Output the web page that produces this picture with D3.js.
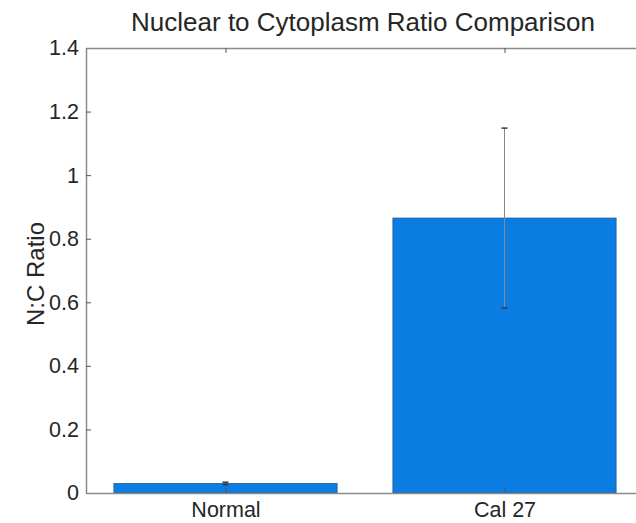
<!DOCTYPE html>
<html><head><meta charset="utf-8">
<script src="https://cdn.jsdelivr.net/npm/d3@7"></script>
<style>body{margin:0;background:#fff}svg{display:block}</style>
</head><body>
<svg id="c" width="636" height="523"></svg>
<script>
const categories = ["Normal", "Cal 27"];
const values = [0.03, 0.865];
const errors = [0.004, 0.283];
const yTicks = [0, 0.2, 0.4, 0.6, 0.8, 1, 1.2, 1.4];
const yTickLabels = ["0", "0.2", "0.4", "0.6", "0.8", "1", "1.2", "1.4"];
const title = "Nuclear to Cytoplasm Ratio Comparison";
const yLabel = "N:C Ratio";

const svg = d3.select("#c");
const m = {left: 86, right: 644, top: 48, bottom: 493};
const x = d3.scaleLinear().domain([0.5, 2.5]).range([m.left, m.right]);
const y = d3.scaleLinear().domain([0, 1.4]).range([m.bottom, m.top]);
const barW = 0.8;
const font = "'Liberation Sans', Arial, sans-serif";
const axisCol = "#8c8c8c";
const txtCol = "#262626";

// bars
svg.selectAll("rect.bar").data(values).join("rect")
  .attr("class", "bar")
  .attr("x", (d, i) => x(i + 1 - barW / 2))
  .attr("width", (d, i) => x(i + 1 + barW / 2) - x(i + 1 - barW / 2))
  .attr("y", d => y(d))
  .attr("height", d => y(0) - y(d))
  .attr("fill", "#0a7ce2")
  .attr("stroke", "#1d5a96")
  .attr("stroke-width", 0.8);

// error bars
const eg = svg.append("g").attr("stroke", "#3a3a3a").attr("stroke-width", 1);
values.forEach((v, i) => {
  const cx = x(i + 1);
  eg.append("line").attr("x1", cx).attr("x2", cx).attr("y1", y(v - errors[i])).attr("y2", y(v + errors[i])).attr("stroke", i === 1 ? "#888" : "#3a3a3a");
  [v - errors[i], v + errors[i]].forEach(e => {
    eg.append("line").attr("x1", cx - 3).attr("x2", cx + 3).attr("y1", y(e)).attr("y2", y(e)).attr("stroke-width", 1.5);
  });
});

// axes
const yAxis = d3.axisLeft(y).tickValues(yTicks).tickFormat((d, i) => yTickLabels[i]).tickSizeInner(-5).tickSizeOuter(0).tickPadding(7);
const gy = svg.append("g").attr("transform", `translate(${m.left},0)`).call(yAxis);
gy.select(".domain").attr("stroke", axisCol).attr("stroke-width", 1.5);
gy.selectAll(".tick line").attr("stroke", "#555");
gy.selectAll("text").attr("font-family", font).attr("font-size", 21.5).attr("fill", txtCol);

const xAxis = d3.axisBottom(x).tickValues([1, 2]).tickFormat((d, i) => categories[i]).tickSizeInner(-5).tickSizeOuter(0).tickPadding(9);
const gx = svg.append("g").attr("transform", `translate(0,${m.bottom})`).call(xAxis);
gx.select(".domain").attr("stroke", axisCol).attr("stroke-width", 1.5);
gx.selectAll(".tick line").attr("stroke", "#555");
gx.selectAll("text").attr("font-family", font).attr("font-size", 21.5).attr("fill", txtCol);

const xTop = d3.axisTop(x).tickValues([1, 2]).tickFormat("").tickSizeInner(-5).tickSizeOuter(0);
const gt = svg.append("g").attr("transform", `translate(0,${m.top})`).call(xTop);
gt.select(".domain").attr("stroke", axisCol).attr("stroke-width", 1.5);
gt.selectAll(".tick line").attr("stroke", "#555");

// title and label
svg.append("text").attr("x", 363).attr("y", 31)
  .attr("text-anchor", "middle").attr("font-family", font).attr("font-size", 26).attr("fill", txtCol).text(title);
svg.append("text").attr("transform", `translate(44,274) rotate(-90)`)
  .attr("text-anchor", "middle").attr("font-family", font).attr("font-size", 24).attr("fill", txtCol).text(yLabel);
</script>
</body></html>
